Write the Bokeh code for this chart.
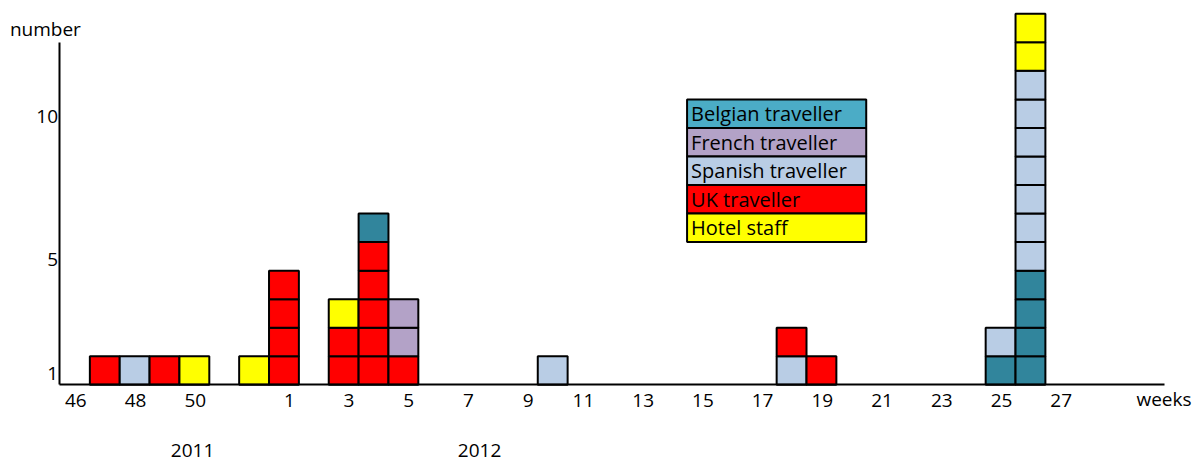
from bokeh.plotting import figure
from bokeh.models import FixedTicker, Range1d, Label, CustomJSTickFormatter
from bokeh.core.properties import value
from bokeh.embed import file_html
from bokeh.resources import INLINE

# ---- data ----
weeks = [46, 47, 48, 49, 50, 51, 52, 1, 2, 3, 4, 5, 6, 7, 8, 9, 10, 11, 12, 13, 14,
         15, 16, 17, 18, 19, 20, 21, 22, 23, 24, 25, 26, 27, 28, 29, 30]
tick_weeks = [46, 48, 50, 1, 3, 5, 7, 9, 11, 13, 15, 17, 19, 21, 23, 25, 27]
y_tick_labels = [1, 5, 10]
years = ["2011", "2012"]

# one entry per case, in stacking order (bottom to top within each week)
case_week = [47, 48, 49, 50, 52,
             1, 1, 1, 1,
             3, 3, 3,
             4, 4, 4, 4, 4, 4,
             5, 5, 5,
             10,
             18, 18,
             19,
             25, 25,
             26, 26, 26, 26, 26, 26, 26, 26, 26, 26, 26, 26, 26]
case_group = ["UK", "Spanish", "UK", "Hotel", "Hotel",
              "UK", "UK", "UK", "UK",
              "UK", "UK", "Hotel",
              "UK", "UK", "UK", "UK", "UK", "Belgian",
              "UK", "French", "French",
              "Spanish",
              "Spanish", "UK",
              "UK",
              "Belgian", "Spanish",
              "Belgian", "Belgian", "Belgian", "Belgian",
              "Spanish", "Spanish", "Spanish", "Spanish", "Spanish", "Spanish", "Spanish",
              "Hotel", "Hotel"]

groups = ["Belgian", "French", "Spanish", "UK", "Hotel"]
legend_labels = ["Belgian traveller", "French traveller", "Spanish traveller",
                 "UK traveller", "Hotel staff"]
bar_colors = {"Belgian": "#31859C", "French": "#B3A2C7", "Spanish": "#B9CDE5",
              "UK": "#FF0000", "Hotel": "#FFFF00"}
legend_colors = ["#4BACC6", "#B3A2C7", "#B9CDE5", "#FF0000", "#FFFF00"]

FONT = value("Open Sans")

# ---- stacking ----
level = {}
left, right, bottom, top, fill = [], [], [], [], []
for w, g in zip(case_week, case_group):
    i = weeks.index(w)
    k = level.get(i, 0)
    level[i] = k + 1
    left.append(i - 0.5)
    right.append(i + 0.5)
    bottom.append(k)
    top.append(k + 1)
    fill.append(bar_colors[g])

p = figure(width=1195, height=464, x_range=Range1d(-2.4926, 37.527),
           y_range=Range1d(-2.793, 13.465), output_backend="svg",
           toolbar_location=None, min_border=0, title=None)

p.quad(left=left, right=right, bottom=bottom, top=top, fill_color=fill,
       line_color="black", line_width=2)

# axes (drawn at the data origin)
def tick_pos(w):
    # single-digit labels sit slightly right of the week centre, as in the original
    return weeks.index(w) + (0.18 if w < 10 else 0.03)

p.xaxis.fixed_location = 0
p.yaxis.fixed_location = -0.5
p.xaxis.bounds = (-0.5, len(weeks) - 0.5)
p.yaxis.bounds = (0, 12)
p.xaxis.ticker = FixedTicker(ticks=[tick_pos(w) for w in tick_weeks])
p.xaxis.major_label_overrides = {tick_pos(w): str(w) for w in tick_weeks}
p.yaxis.ticker = FixedTicker(ticks=[v - 0.6 for v in y_tick_labels])
p.yaxis.formatter = CustomJSTickFormatter(code="return (tick + 0.6).toFixed(0);")
for ax in (p.xaxis, p.yaxis):
    ax.axis_line_color = "black"
    ax.axis_line_width = 2
    ax.major_tick_line_color = None
    ax.minor_tick_line_color = None
    ax.major_tick_out = 0
    ax.major_tick_in = 0
    ax.major_label_text_font = "Open Sans"
    ax.major_label_text_font_size = "19px"
    ax.major_label_text_color = "black"
p.xaxis.major_label_standoff = 9
p.yaxis.major_label_standoff = 2
p.xgrid.visible = False
p.ygrid.visible = False
p.outline_line_color = None

# legend drawn as coloured boxes with text
n = len(groups)
leg_top = [10 - j for j in range(n)]
leg_bottom = [10 - j - 1 for j in range(n)]
p.quad(left=[20.5] * n, right=[26.5] * n, bottom=leg_bottom, top=leg_top,
       fill_color=legend_colors, line_color="black", line_width=2)
p.text(x=[20.5] * n, y=[b + 0.5 for b in leg_bottom], text=legend_labels,
       x_offset=4, text_baseline="middle", text_align="left",
       text_font=FONT, text_font_size="20px", text_color="black")

# axis titles and year labels
p.add_layout(Label(x=-0.99, y=12.48, text="number", text_align="center",
                   text_baseline="alphabetic", text_font="Open Sans",
                   text_font_size="19px", text_color="black"))
p.add_layout(Label(x=35.55, y=-0.5, text="weeks", text_align="left",
                   text_baseline="alphabetic", text_font="Open Sans",
                   text_font_size="19px", text_color="black"))
for yr, xpos in zip(years, [3.94, 13.55]):
    p.add_layout(Label(x=xpos, y=-2.3, text=yr, text_align="center",
                       text_baseline="alphabetic", text_font="Open Sans",
                       text_font_size="19px", text_color="black"))

open("out.html", "w").write(file_html(p, INLINE))
